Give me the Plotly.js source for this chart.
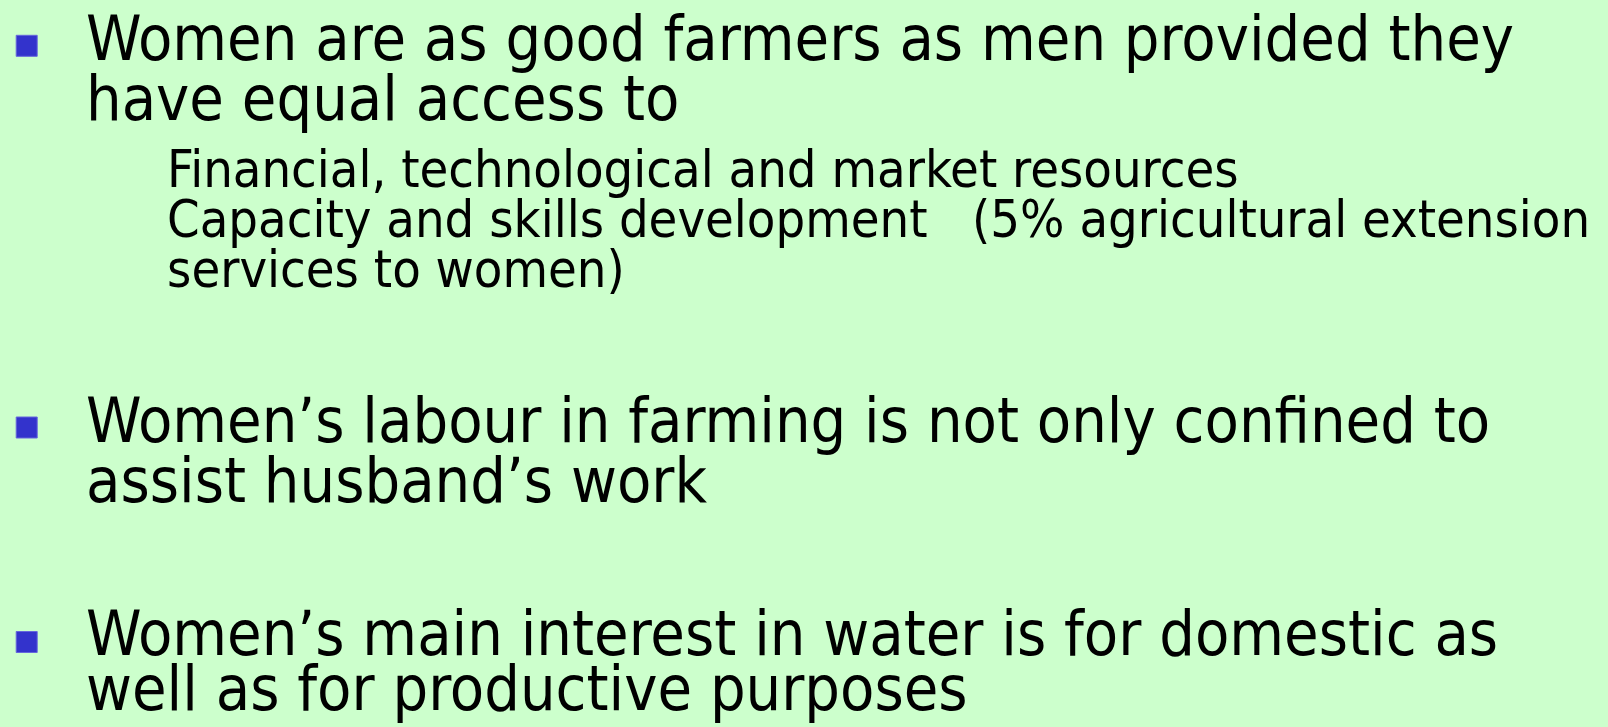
<!DOCTYPE html>
<html>
<head>
<meta charset="utf-8">
<script src="https://cdn.plot.ly/plotly-3.0.1.min.js"></script>
<style>
  html, body { margin: 0; padding: 0; background: #CCFFCC; }
  #chart { width: 1608px; height: 727px; }
</style>
</head>
<body>
<div id="chart"></div>
<script>
// Slide content
const mainLines = [
  "Women are as good farmers as men provided they",
  "have equal access to",
  "Women\u2019s labour in farming is not only confined to",
  "assist husband\u2019s work",
  "Women\u2019s main interest in water is for domestic as",
  "well as for productive purposes"
];
const subLines = [
  "Financial, technological and market resources",
  "Capacity and skills development\u00a0\u00a0\u00a0(5% agricultural extension",
  "services to women)"
];
const bulletLabels = ["bullet 1", "bullet 2", "bullet 3"];

// Layout (pixel coordinates, y downwards)
const mainBaselines = [60, 120, 441.7, 501.7, 655, 710];
const subBaselines = [186.7, 237, 287];
const bulletY = [45.8, 427.5, 642];
const bulletX = 26.7;

const FONT = '"DejaVu Sans Condensed", "DejaVu Sans", Tahoma, Verdana, sans-serif';
const mainSize = 62.5;
const subSize = 52;

const annotations = [];
mainLines.forEach((t, i) => {
  annotations.push({
    text: t, xref: 'x', yref: 'y', x: 86, y: mainBaselines[i] - 0.346 * mainSize,
    xanchor: 'left', yanchor: 'middle', showarrow: false, borderpad: 0, borderwidth: 0,
    font: {family: FONT, size: mainSize, color: '#000000'}
  });
});
subLines.forEach((t, i) => {
  annotations.push({
    text: t, xref: 'x', yref: 'y', x: 167, y: subBaselines[i] - 0.346 * subSize,
    xanchor: 'left', yanchor: 'middle', showarrow: false, borderpad: 0, borderwidth: 0,
    font: {family: FONT, size: subSize, color: '#000000'}
  });
});

const bullets = {
  type: 'scatter', mode: 'markers',
  x: bulletY.map(() => bulletX), y: bulletY, text: bulletLabels,
  marker: {symbol: 'square', size: 21, color: '#3333CC', line: {color: '#6666DD', width: 1}},
  hoverinfo: 'none', showlegend: false
};

const layout = {
  width: 1608, height: 727,
  margin: {l: 0, r: 0, t: 0, b: 0, pad: 0},
  paper_bgcolor: '#CCFFCC', plot_bgcolor: '#CCFFCC',
  xaxis: {range: [0, 1608], visible: false, fixedrange: true},
  yaxis: {range: [727, 0], visible: false, fixedrange: true},
  annotations: annotations,
  showlegend: false
};

Plotly.newPlot('chart', [bullets], layout, {displayModeBar: false, staticPlot: true});
</script>
</body>
</html>
